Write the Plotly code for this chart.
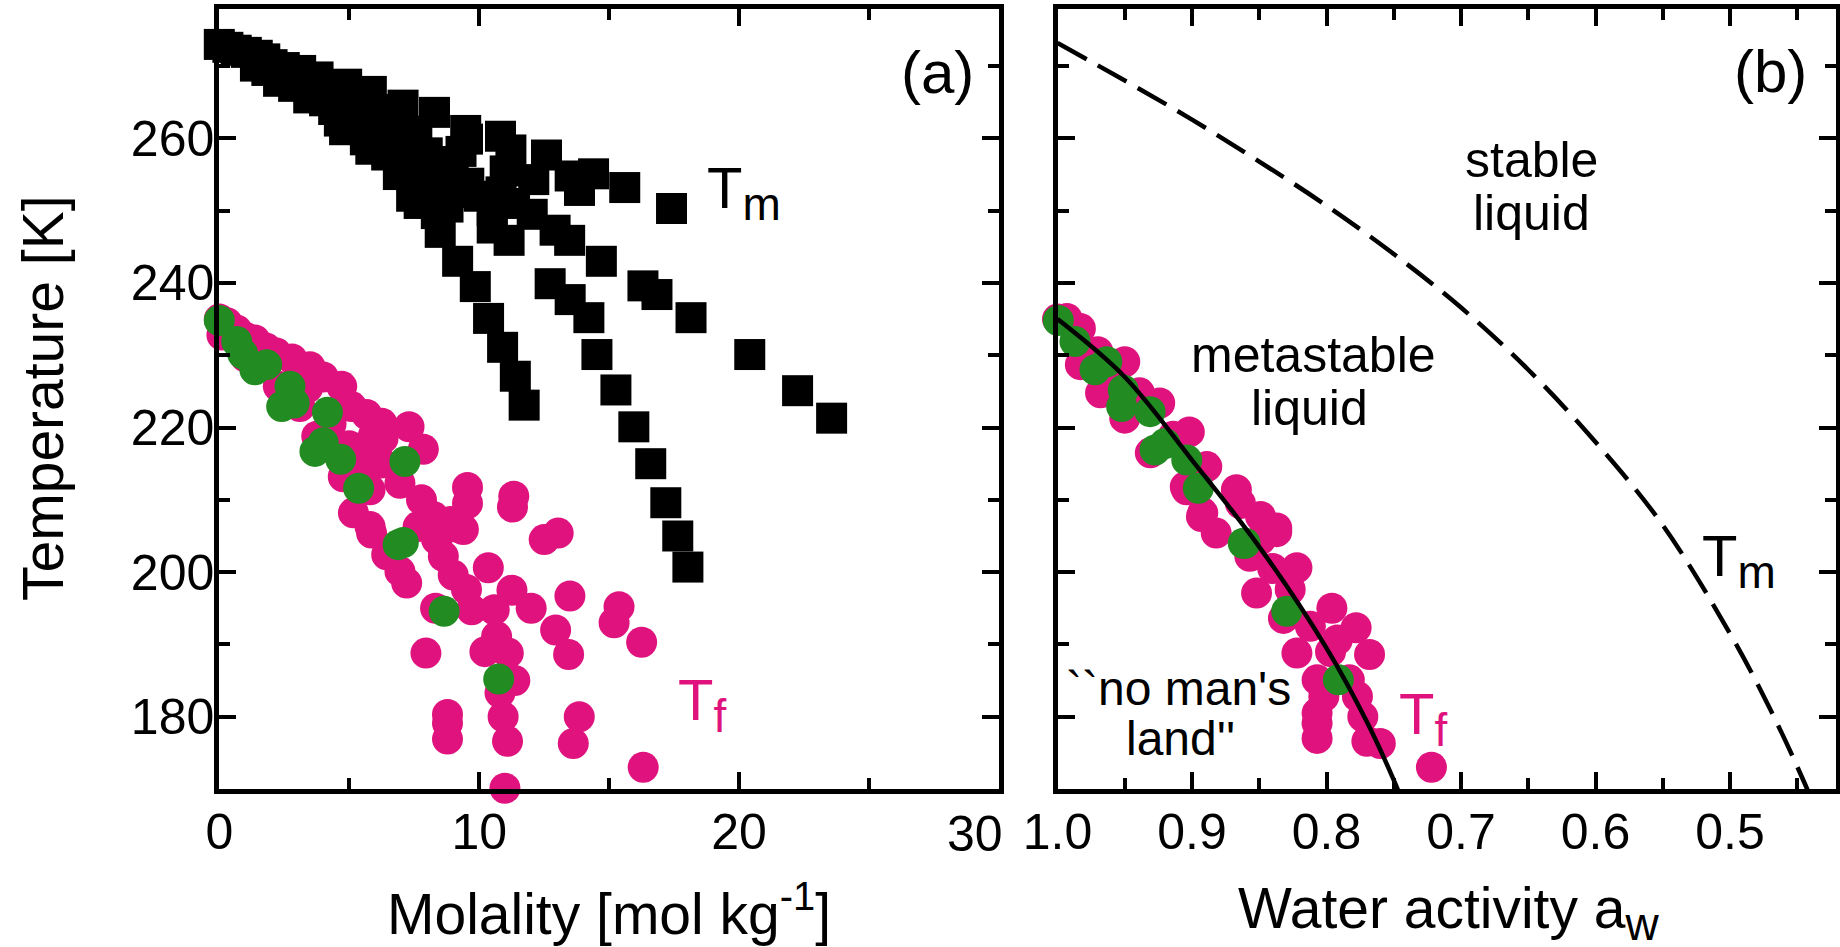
import plotly.graph_objects as go

W, H = 1840, 947
FONT = "Liberation Sans, Arial, Helvetica, sans-serif"
MAGENTA = "#E0137E"
GREEN = "#228B22"

# ---------------- Panel (a): temperature vs molality ----------------
# Ice melting points Tm (black squares)
tm_molality = [0.00, 0.33, 0.65, 1.04, 1.46, 1.75, 2.03, 2.50, 3.13, 3.80, 4.90, 5.85, 7.07, 8.28,
               9.48, 10.82, 11.22, 12.59, 13.50, 13.86, 14.40, 15.60, 17.40,
               1.39, 1.83, 2.28, 2.86, 3.44, 4.05, 4.62, 4.82, 5.62, 5.83, 6.44, 6.89, 7.69,
               8.35, 8.50, 9.17, 9.85, 10.36, 10.90, 11.39, 11.73,
               3.50, 4.30, 5.20, 5.60, 6.30, 6.20, 6.90, 7.10, 7.50, 8.00, 8.30, 8.00, 9.00,
               9.00, 9.60, 9.55, 8.80, 10.50, 11.00, 12.10, 5.00, 6.60, 7.00, 7.60, 7.50, 8.90,
               10.00, 4.40, 5.40, 6.00, 9.30, 7.40,
               10.84, 11.36, 12.04, 12.92, 13.48, 14.70, 16.30, 16.84, 18.15, 20.41, 22.25, 23.56,
               10.50, 11.15, 12.73, 13.50, 14.22, 14.53, 15.26, 15.95, 16.60, 17.18, 17.64, 18.03]
tm_temperature = [273.0, 272.6, 272.2, 271.9, 271.5, 271.0, 270.2, 269.8, 269.4, 268.5, 267.5, 266.5, 264.6, 263.6,
                  261.1, 260.3, 258.4, 257.7, 254.8, 252.8, 255.1, 253.2, 250.3,
                  270.0, 269.4, 267.9, 267.2, 265.6, 265.2, 262.4, 261.2, 259.8, 258.5, 257.7, 255.0, 251.0,
                  249.6, 247.0, 243.0, 239.5, 235.1, 231.1, 227.1, 223.1,
                  267.5, 266.2, 264.0, 262.5, 263.0, 260.5, 261.3, 258.8, 256.5, 258.0, 255.0, 253.0, 256.8,
                  252.5, 253.8, 259.9, 250.5, 250.0, 255.5, 254.3, 262.0, 259.5, 262.5, 261.0, 254.0, 254.5,
                  252.0, 264.0, 265.5, 264.0, 258.2, 252.0,
                  252.6, 251.0, 249.5, 247.3, 245.9, 243.0, 239.6, 238.4, 235.2, 230.1, 225.1, 221.3,
                  247.6, 245.9, 239.9, 237.7, 235.2, 230.1, 225.2, 220.1, 215.0, 209.6, 205.0, 200.7]

# Homogeneous freezing temperatures Tf (magenta circles)
tf_molality = [0.00, 0.30, 0.67, 1.00, 1.37, 1.80, 2.20, 2.80, 3.49, 4.00, 0.10, 1.00, 2.27, 3.10, 3.40,
               4.71, 5.09, 5.67, 4.30, 3.75, 5.92, 4.77, 5.67, 5.00, 6.30, 6.25, 7.30, 7.85, 6.95, 7.78,
               8.24, 8.49, 9.26, 9.55, 9.55, 11.33, 11.28, 12.50, 13.04, 10.35, 11.26, 12.00, 13.49,
               15.38, 15.19, 12.94, 16.25, 13.44, 7.95, 8.32, 9.71, 10.58, 10.67, 10.22, 11.12, 11.37,
               10.80, 10.92, 11.09, 10.99, 8.78, 8.78, 8.78, 13.85, 13.62, 16.31, 5.16, 5.86, 6.44,
               6.95, 7.21, 5.80, 9.39, 8.36, 8.62, 9.00, 9.51, 7.65, 6.25, 5.80, 8.90]
tf_temperature = [235.0, 234.5, 233.5, 232.5, 232.1, 231.0, 230.3, 229.5, 228.4, 227.0, 232.8, 229.8, 225.7, 222.9, 225.5,
                  225.7, 222.9, 221.8, 220.5, 218.8, 218.8, 213.2, 215.1, 217.5, 218.5, 220.6, 220.1, 217.0, 212.3, 210.0,
                  207.7, 205.4, 206.1, 211.7, 209.5, 210.5, 209.0, 204.5, 205.4, 200.6, 197.5, 195.0, 196.7,
                  195.2, 193.0, 192.0, 190.3, 188.6, 188.8, 195.0, 194.8, 194.8, 191.1, 189.0, 188.8, 185.0,
                  183.3, 180.0, 176.6, 170.1, 180.3, 179.1, 176.9, 180.0, 176.3, 173.0, 208.2, 205.4, 202.4,
                  200.1, 198.5, 211.4, 205.9, 204.5, 202.2, 199.6, 197.6, 206.3, 215.1, 206.3, 207.0]

# Tf subset highlighted in green
tfg_molality = [0.00, 0.67, 0.90, 1.37, 1.82, 2.72, 2.40, 2.88, 4.16, 4.00, 3.68, 4.67, 5.36, 7.14,
                6.88, 7.08, 8.65, 10.75]
tfg_temperature = [234.8, 231.9, 230.2, 228.0, 228.7, 225.7, 222.9, 223.4, 222.1, 217.9, 216.7, 215.6, 211.6, 215.3,
                   203.8, 204.1, 194.6, 185.2]

# ---------------- Panel (b): temperature vs water activity ----------------
tfb_aw = [1.000, 0.993, 1.002, 0.983, 0.983, 0.970, 0.963, 0.950, 0.968, 0.939, 0.950, 0.924, 0.931, 0.914,
          0.902, 0.904, 0.889, 0.892, 0.882, 0.867, 0.864, 0.849, 0.837, 0.837, 0.905, 0.893, 0.849,
          0.822, 0.852, 0.827, 0.840, 0.857, 0.832, 0.796, 0.812, 0.778, 0.792, 0.768, 0.822, 0.797,
          0.807, 0.783, 0.777, 0.802, 0.807, 0.807, 0.807, 0.773, 0.770, 0.760, 0.722]
tfb_temperature = [235.0, 235.1, 232.6, 233.7, 228.7, 230.5, 228.4, 229.1, 224.8, 224.8, 221.3, 223.4, 216.5, 218.8,
                   219.4, 211.4, 214.6, 208.2, 205.4, 211.4, 209.5, 207.7, 206.1, 205.6, 211.8, 207.7, 204.5,
                   200.6, 197.1, 197.6, 200.5, 202.2, 193.6, 195.0, 192.5, 192.3, 190.6, 188.6, 188.8, 189.0,
                   185.1, 185.1, 182.8, 182.8, 180.5, 179.1, 177.0, 180.0, 176.6, 176.3, 173.0]

tfbg_aw = [0.9994, 0.987, 0.9721, 0.9634, 0.9511, 0.9523, 0.9312, 0.9275, 0.9201, 0.9039, 0.8953,
           0.8619, 0.8606, 0.8296, 0.7912]
tfbg_temperature = [234.8, 231.9, 228.0, 229.1, 225.2, 222.9, 222.2, 216.9, 217.8, 215.5, 211.6,
                    204.0, 204.0, 194.6, 185.1]

# Ice melting curve Tm(aw) (dashed) and homogeneous freezing curve Tf(aw) (solid)
tm_line_aw = [1.00, 0.95, 0.90, 0.85, 0.80, 0.75, 0.70, 0.65, 0.60, 0.55, 0.50, 0.47, 0.445, 0.435]
tm_line_temperature = [273.2, 268.0, 262.6, 256.8, 250.7, 244.0, 236.6, 228.0, 218.0, 206.5, 191.5, 181.0,
                       171.0, 166.5]
tf_line_aw = [1.000, 0.95, 0.90, 0.85, 0.80, 0.77, 0.749, 0.742]
tf_line_temperature = [235.0, 227.0, 215.5, 203.5, 189.5, 179.3, 170.8, 167.5]

# tick labels
a_x_ticks = [0, 10, 20]
a_x_ticktext = ["0", "10", "20"]
b_x_ticks = [1.0, 0.9, 0.8, 0.7, 0.6, 0.5]
b_x_ticktext = ["1.0", "0.9", "0.8", "0.7", "0.6", "0.5"]
y_ticks = [180, 200, 220, 240, 260]

fig = go.Figure()

def markers(x, y, symbol, color, xa, ya, name):
    return go.Scatter(x=x, y=y, mode="markers", name=name, xaxis=xa, yaxis=ya, cliponaxis=False,
                      marker=dict(symbol=symbol, size=31, color=color, line=dict(width=0)),
                      showlegend=False, hoverinfo="x+y")

fig.add_trace(markers(tm_molality, tm_temperature, "square", "black", "x", "y", "Tm"))
fig.add_trace(markers(tf_molality, tf_temperature, "circle", MAGENTA, "x", "y", "Tf"))
fig.add_trace(markers(tfg_molality, tfg_temperature, "circle", GREEN, "x", "y", "Tf (green)"))
fig.add_trace(markers(tfb_aw, tfb_temperature, "circle", MAGENTA, "x2", "y2", "Tf"))
fig.add_trace(markers(tfbg_aw, tfbg_temperature, "circle", GREEN, "x2", "y2", "Tf (green)"))
fig.add_trace(go.Scatter(x=tf_line_aw, y=tf_line_temperature, mode="lines", xaxis="x2", yaxis="y2",
                         line=dict(color="black", width=4.5, shape="spline"), showlegend=False))
fig.add_trace(go.Scatter(x=tm_line_aw, y=tm_line_temperature, mode="lines", xaxis="x2", yaxis="y2",
                         line=dict(color="black", width=4.5, shape="spline", dash="33px,13px"),
                         showlegend=False))

y_dom = [1 - 789 / H, 1 - 9 / H]
common = dict(showline=True, linecolor="black", linewidth=5, mirror="ticks", ticks="inside",
              ticklen=17, tickwidth=4, tickcolor="black", showgrid=False, zeroline=False,
              automargin=False, layer="above traces",
              tickfont=dict(family=FONT, size=50, color="black"))
minor_common = dict(ticks="inside", ticklen=11, tickwidth=4, tickcolor="black", showgrid=False)

fig.update_layout(
    template="none",
    width=W, height=H, margin=dict(l=0, r=0, t=0, b=0, pad=0, autoexpand=False),
    paper_bgcolor="white", plot_bgcolor="white",
    font=dict(family=FONT, color="black"),
    xaxis=dict(domain=[219.3 / W, 999 / W], range=[0, 30], tickmode="array", tickvals=a_x_ticks,
               ticktext=a_x_ticktext, anchor="y", ticklabelstandoff=-5,
               minor=dict(dtick=5, tick0=0, **minor_common), **common),
    yaxis=dict(domain=y_dom, range=[170.0, 277.9], tickmode="array", tickvals=y_ticks, anchor="x",
               ticklabelstandoff=-10,
               minor=dict(dtick=10, tick0=170, **minor_common), **common),
    xaxis2=dict(domain=[1057.5 / W, 1836 / W], range=[1.0, 0.4212], tickmode="array", tickvals=b_x_ticks,
                ticktext=b_x_ticktext, anchor="y2", ticklabelstandoff=-5,
                minor=dict(dtick=0.05, tick0=0, **minor_common), **common),
    yaxis2=dict(domain=y_dom, range=[170.0, 277.9], tickmode="array", tickvals=y_ticks, anchor="x2",
                showticklabels=False,
                minor=dict(dtick=10, tick0=170, **minor_common), **common),
)

def px(x):
    return x / W

def py(y):
    return 1 - y / H

def ann(text, x, y, size, color="black", xanchor="center", yanchor="middle", angle=0):
    return dict(text=text, x=px(x), y=py(y), xref="paper", yref="paper", showarrow=False,
                xanchor=xanchor, yanchor=yanchor, textangle=angle,
                font=dict(family=FONT, size=size, color=color))

SUB = "<sub><span style='font-size:46px'>%s</span></sub>"

annotations = [
    ann("30", 974.5, 834, 50),
    ann("Molality [mol kg<sup>-1</sup>]", 609, 910, 57),
    ann("Water activity a" + SUB % "w", 1448, 913, 57),
    ann("Temperature [K]", 43, 398, 57, angle=-90),
    ann("(a)", 937, 73, 60),
    ann("(b)", 1770, 72, 60),
    ann("T" + SUB % "m", 705, 192, 58, xanchor="left"),
    ann("T" + SUB % "f", 676, 704, 58, color=MAGENTA, xanchor="left"),
    ann("stable", 1531, 160, 50),
    ann("liquid", 1531, 213, 50),
    ann("metastable", 1313, 355, 50),
    ann("liquid", 1309, 408, 50),
    ann("``no man's", 1178, 688, 48),
    ann("land''", 1180, 738, 48),
    ann("T" + SUB % "m", 1700, 560, 58, xanchor="left"),
    ann("T" + SUB % "f", 1397, 718, 58, color=MAGENTA, xanchor="left"),
]
fig.update_layout(annotations=annotations)

fig.write_html("out.html")
